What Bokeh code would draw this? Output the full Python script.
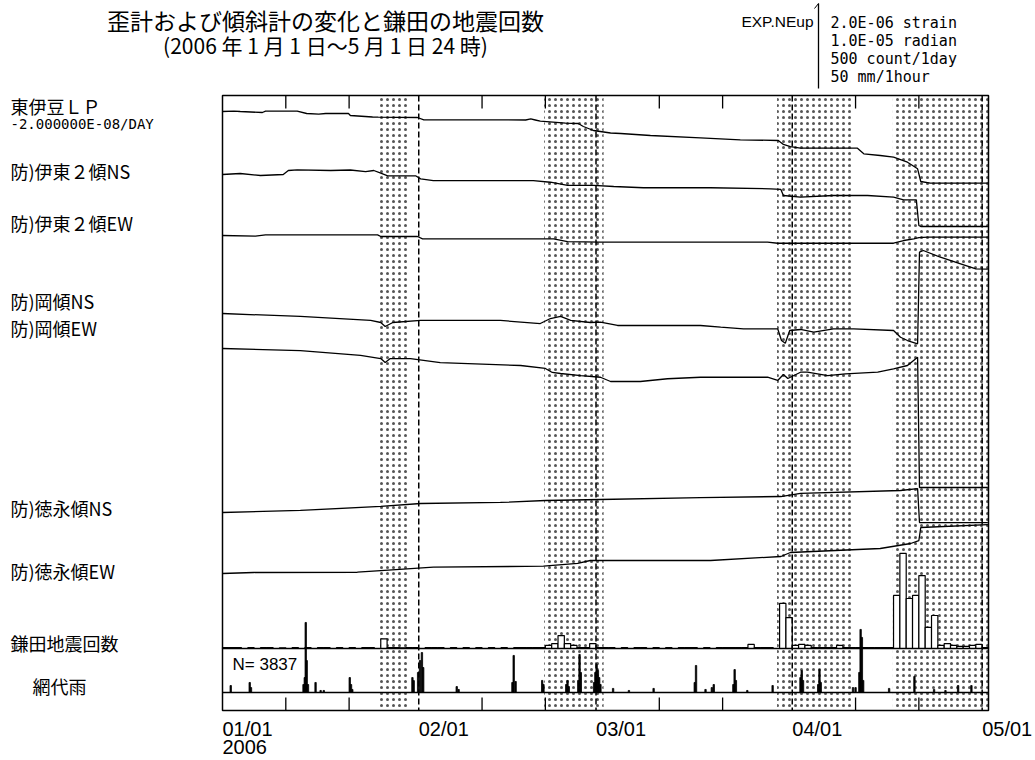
from bokeh.plotting import figure
from bokeh.models import Range1d
from bokeh.embed import file_html
from bokeh.resources import INLINE
from bokeh.core.properties import value

# ------------------------------------------------------------------ data
# time axis: days since 2006-01-01 00:00 (frame ends 2006-05-01 24:00)
N_DAYS = 121
month_days = [0, 31, 59, 90, 120]
month_labels = ["01/01", "02/01", "03/01", "04/01", "05/01"]
year_label = "2006"
minor_days = [10, 20, 41, 51, 69, 79, 100, 110]
shade_start = [24.7, 50.8, 87.6, 105.9]
shade_end = [29.3, 60.2, 99.6, 121.0]

# 東伊豆LP  (strain, unit 1e-7)
lp_day = [0, 1.8, 2.8, 6.3, 6.8, 11.8, 13.3, 15.2, 16.3, 19.9, 20.2, 23.7, 24.6, 30.8, 31.8,
          47.9, 48.7, 49.4, 50.2, 54.2, 56.2, 57.0, 58.6, 61.3, 62.9, 67.6, 75.5, 81.8, 87.8,
          88.6, 89.7, 91.3, 100.3, 101.3, 103.9, 106.0, 108.2, 109.8, 110.3, 111.8, 120.9]
lp_val = [0, 0.1, 0, -0.24, 0.07, 0.07, -0.47, -0.63, -0.47, -0.47, -0.94, -1.29, -1.34, -1.41, -1.95,
          -2.0, -1.76, -2.0, -2.28, -2.75, -2.82, -3.53, -4.47, -5.06, -5.18, -5.65, -6.19, -6.66, -6.82,
          -7.76, -8.24, -8.64, -8.64, -9.95, -10.35, -10.75, -11.93, -13.48, -16.47, -16.87, -16.87]

# 防)伊東2傾NS (tilt, micro-radian)
ito_ns_day = [0, 2.8, 6.0, 9.6, 10.4, 11.8, 17.1, 20.2, 22.6, 23.9, 25.0, 26.1, 30.5, 31.3, 33.3,
              49.1, 51.8, 54.5, 58.6, 61.8, 66.5, 77.1, 86.6, 88.2, 88.6, 91.3, 96.5, 101.9, 106.0,
              107.6, 109.6, 110.0, 110.3, 120.9]
ito_ns_val = [0, 0.12, -0.12, 0, 0.47, 0.55, 0.47, 0.53, 0.35, 0.47, 0.15, -0.15, -0.15, -0.51, -0.71,
              -0.71, -0.91, -1.29, -1.29, -1.41, -1.56, -1.56, -1.68, -1.76, -2.47, -2.67, -2.47, -2.47, -2.67,
              -2.98, -2.98, -6.0, -6.12, -6.12]

# 防)伊東2傾EW
ito_ew_day = [0, 5.2, 6.8, 24.5, 25.0, 30.8, 31.6, 52.3, 54.5, 59.7, 86.1, 87.7, 106.0, 107.6,
              109.2, 110.0, 111.4, 120.9]
ito_ew_val = [0, -0.08, 0.08, 0.08, -0.12, -0.12, -0.39, -0.39, -0.71, -0.79, -0.79, -0.91, -0.91, -0.59,
              -0.39, -0.24, -0.2, -0.2]

# 防)岡傾NS
oka_ns_day = [0, 12.3, 23.4, 25.0, 25.7, 26.9, 31.3, 43.9, 50.2, 51.8, 53.4, 55.0, 58.1, 59.7, 62.4,
              70.3, 75.5, 78.7, 82.3, 87.7, 88.3, 88.9, 89.6, 91.3, 93.4, 96.5, 99.7, 106.0, 107.1,
              108.2, 109.8, 110.1, 110.7, 113.4, 116.6, 119.0, 120.9]
oka_ns_val = [0, -0.35, -0.82, -1.06, -1.53, -1.06, -0.82, -0.82, -1.18, -0.59, -0.35, -0.82, -1.06, -1.02, -1.41,
              -1.41, -1.41, -1.61, -1.8, -1.8, -3.18, -3.49, -2.0, -1.88, -2.2, -1.8, -1.8, -2.0, -2.79,
              -3.18, -3.56, 7.21, 7.41, 6.62, 5.84, 5.25, 5.23]

# 防)岡傾EW
oka_ew_day = [0, 12.3, 21.8, 25.0, 25.7, 26.5, 29.7, 34.4, 47.1, 51.0, 52.1, 53.4, 56.6, 59.7, 61.3,
              66.0, 70.3, 75.5, 86.1, 87.7, 88.6, 89.3, 91.3, 92.4, 95.6, 98.4, 103.5, 106.0, 108.2,
              109.8, 110.1, 120.9]
oka_ew_val = [0, -0.24, -0.82, -1.18, -1.65, -1.18, -1.18, -1.65, -2.0, -2.35, -2.82, -2.94, -3.18, -3.38, -3.88,
              -3.88, -3.56, -3.38, -3.38, -3.76, -3.06, -3.53, -2.79, -2.79, -3.18, -2.98, -2.79, -2.39, -2.0,
              -1.02, -16.35, -16.35]

# 防)徳永傾NS
tok_ns_day = [0, 12.3, 25.0, 31.3, 43.9, 51.0, 59.7, 75.5, 88.2, 91.3, 107.1, 109.8, 110.1, 120.9]
tok_ns_val = [0, 0.24, 0.71, 1.06, 1.18, 1.41, 1.53, 1.76, 1.88, 2.24, 2.59, 2.82, -1.18, -1.18]

# 防)徳永傾EW
tok_ew_day = [0, 4.9, 21.3, 25.0, 33.3, 50.7, 56.1, 58.1, 77.1, 88.2, 89.7, 103.9, 108.7, 110.0,
              110.3, 120.9]
tok_ew_val = [0, 0.12, 0.15, 0.35, 0.74, 0.86, 1.18, 1.53, 1.53, 2.0, 2.47, 2.94, 3.53, 3.88,
              5.41, 5.76]

# 鎌田地震回数 (count / day)
eq_day = [0, 1, 2, 4, 6, 7, 9, 11, 13, 15, 16, 18, 20, 22, 23, 25, 26, 27, 28, 29, 30,
          32, 33, 34, 36, 38, 40, 42, 44, 46, 47, 48, 49, 50, 51, 52, 53, 54, 55, 56, 57, 58,
          59, 60, 61, 63, 65, 66, 68, 70, 72, 73, 74, 76, 78, 79, 80, 81, 82, 83, 84, 85, 86,
          88, 89, 90, 91, 92, 93, 94, 95, 96, 97, 98, 99, 100, 101, 102, 103, 104, 105,
          106, 107, 108, 109, 110, 111, 112, 113, 114, 115, 116, 117, 118, 119, 120]
eq_cnt = [5, 5, 5, 5, 5, 5, 4, 5, 5, 5, 5, 5, 5, 5, 5, 57, 5, 5, 4, 5, 5,
          5, 5, 5, 5, 5, 5, 5, 5, 5, 5, 5, 5, 5, 18, 29, 76, 29, 18, 6, 6, 29,
          5, 5, 5, 5, 5, 5, 5, 5, 5, 5, 5, 5, 5, 5, 5, 5, 5, 24, 5, 5, 5,
          265, 182, 18, 24, 18, 5, 5, 5, 5, 18, 5, 5, 5, 5, 5, 5, 5, 5,
          312, 560, 294, 312, 429, 124, 194, 18, 29, 18, 12, 12, 18, 24, 6]
eq_total = "N= 3837"

# 網代雨 (mm / hour)
rain_day = [1.3, 4.3, 4.5, 12.8, 13.0, 13.15, 13.3, 13.5, 14.7, 15.5, 16.0, 20.1, 20.3, 20.5,
            30.0, 30.2, 30.9, 31.2, 31.5, 31.7, 37.0, 37.3, 45.8, 46.0, 46.3, 50.5, 50.7,
            54.3, 54.5, 54.7, 56.2, 56.4, 56.6, 58.7, 58.9, 59.1, 59.3, 59.5, 59.7, 61.7,
            64.2, 68.1, 74.6, 74.8, 76.3, 77.3, 77.6, 80.7, 80.9, 81.1, 82.9, 86.9, 91.3,
            91.5, 91.7, 94.1, 94.3, 94.5, 99.6, 100.0, 100.6, 100.8, 101.0, 101.2, 105.3,
            109.3, 112.4, 114.2, 116.2, 118.3]
rain_mm = [4.1, 5.9, 2.9, 4.7, 8.8, 41.2, 18.8, 4.7, 5.9, 1.2, 1.2, 8.8, 4.7, 1.8,
           8.8, 7.0, 11.8, 18.8, 23.5, 14.7, 3.5, 1.8, 5.9, 21.8, 6.5, 7.1, 4.7,
           4.7, 7.1, 3.5, 7.1, 22.4, 11.8, 5.9, 11.8, 16.5, 12.9, 8.8, 4.7, 2.4,
           1.2, 2.4, 5.9, 15.9, 1.8, 2.9, 4.7, 4.7, 13.5, 7.1, 1.2, 4.1, 8.8,
           12.9, 7.1, 4.7, 13.5, 5.9, 2.9, 2.9, 11.8, 37.1, 32.4, 7.1, 2.4,
           9.4, 1.8, 1.2, 4.1, 4.1]

title1 = "歪計および傾斜計の変化と鎌田の地震回数"
title2 = "(2006 年 1 月 1 日～5 月 1 日 24 時)"
legend_head = "EXP.NEup"
legend_lines = ["2.0E-06 strain", "1.0E-05 radian", "500 count/1day", "50 mm/1hour"]
row_names = ["東伊豆ＬＰ", "防)伊東２傾NS", "防)伊東２傾EW", "防)岡傾NS", "防)岡傾EW",
             "防)徳永傾NS", "防)徳永傾EW", "鎌田地震回数", "網代雨"]
lp_note = "-2.000000E-08/DAY"

# ------------------------------------------------------------------ layout (canvas pixels)
W, H = 1035, 760
FL, FR, FT, FB = 222, 988, 95, 710
PPD = (FR - FL) / N_DAYS
SCALE_PX = 85.0                      # length of the strain / tilt / count / rain scale
STRAIN_PX = SCALE_PX / 20.0          # px per 1e-7 strain
TILT_PX = SCALE_PX / 10.0            # px per micro-radian
EQ_PX = SCALE_PX / 500.0             # px per count
RAIN_PX = SCALE_PX / 50.0            # px per mm
EQ_BASE, RAIN_BASE = 648, 692
trace_base = {"lp": 111, "ito_ns": 174, "ito_ew": 235, "oka_ns": 313, "oka_ew": 348,
              "tok_ns": 512, "tok_ew": 573}
label_y = [105, 170, 222, 300, 327, 507, 570, 642, 685]
label_x = [10, 10, 10, 10, 10, 10, 10, 10, 32]

JP = value("Noto Sans CJK JP")
SANS = value("Liberation Sans")
MONO = value("DejaVu Sans Mono")


def dx(px):
    return (px - FL) / PPD


# whole canvas is the plot area: x in days, y in canvas pixels (downwards)
p = figure(width=W, height=H, output_backend="svg", toolbar_location=None,
           x_range=Range1d(dx(0), dx(W)), y_range=Range1d(H, 0),
           x_axis_location=None, y_axis_location=None,
           min_border=0, min_border_left=0, min_border_right=0,
           min_border_top=0, min_border_bottom=0)
p.grid.visible = False
p.outline_line_color = None
p.background_fill_color = "white"
p.border_fill_color = "white"

# dotted shading
p.quad(left=shade_start, right=shade_end, top=FT, bottom=FB,
       fill_alpha=0, line_alpha=0, hatch_pattern="dot", hatch_scale=6,
       hatch_weight=0.6, hatch_color="#555555")


def trace(days, vals, key, ppu):
    ys = [trace_base[key] - v * ppu for v in vals]
    p.line(days, ys, line_color="black", line_width=1.3)


trace(lp_day, lp_val, "lp", STRAIN_PX)
trace(ito_ns_day, ito_ns_val, "ito_ns", TILT_PX)
trace(ito_ew_day, ito_ew_val, "ito_ew", TILT_PX)
trace(oka_ns_day, oka_ns_val, "oka_ns", TILT_PX)
trace(oka_ew_day, oka_ew_val, "oka_ew", TILT_PX)
trace(tok_ns_day, tok_ns_val, "tok_ns", TILT_PX)
trace(tok_ew_day, tok_ew_val, "tok_ew", TILT_PX)

# earthquake counts (outlined daily bars)
p.quad(left=eq_day, right=[d + 1 for d in eq_day],
       bottom=EQ_BASE, top=[EQ_BASE - c * EQ_PX for c in eq_cnt],
       fill_color="white", line_color="black", line_width=1.2)

# rain (filled hourly bars)
p.vbar(x=rain_day, width=0.22, bottom=RAIN_BASE,
       top=[RAIN_BASE - r * RAIN_PX for r in rain_mm],
       fill_color="black", line_color="black", line_width=0.8)

# separators and frame
p.segment(x0=[0, 0], x1=[N_DAYS, N_DAYS], y0=[EQ_BASE, RAIN_BASE], y1=[EQ_BASE, RAIN_BASE],
          line_color="black", line_width=1.5)
p.quad(left=0, right=N_DAYS, top=FT, bottom=FB, fill_alpha=0,
       line_color="black", line_width=1.5)

# month lines
p.segment(x0=month_days[1:], x1=month_days[1:], y0=FT, y1=FB,
          line_color="black", line_width=1.5, line_dash="6 3")

# minor ticks top & bottom
p.segment(x0=minor_days, x1=minor_days, y0=FT, y1=FT + 13, line_color="black", line_width=1.3)
p.segment(x0=minor_days, x1=minor_days, y0=FB, y1=FB - 13, line_color="black", line_width=1.3)

# date labels
p.text(x=month_days, y=728, text=month_labels, text_font=SANS, text_font_size="20px",
       text_baseline="middle", text_align="left", text_color="black")
p.text(x=[0], y=746, text=[year_label], text_font=SANS, text_font_size="20px",
       text_baseline="middle", text_align="left", text_color="black")

# row names
p.text(x=[dx(v) for v in label_x], y=label_y, text=row_names, text_font=JP,
       text_font_size="18px", text_baseline="middle", text_align="left", text_color="black")
p.text(x=[dx(10)], y=123.5, text=[lp_note], text_font=MONO, text_font_size="14px",
       text_baseline="middle", text_align="left", text_color="black")
p.text(x=[dx(232)], y=664, text=[eq_total], text_font=SANS, text_font_size="17px",
       text_baseline="middle", text_align="left", text_color="black")

# titles
p.text(x=[dx(325)], y=19, text=[title1], text_font=JP, text_font_size="23px",
       text_baseline="middle", text_align="center")
p.text(x=[dx(325)], y=44, text=[title2], text_font=JP, text_font_size="21px",
       text_baseline="middle", text_align="center")

# legend block
LX = 818
p.text(x=[dx(LX - 5)], y=21, text=[legend_head], text_font=SANS,
       text_font_size="15.5px", text_baseline="middle", text_align="right")
p.segment(x0=[dx(LX)], x1=[dx(LX)], y0=[3], y1=[3 + SCALE_PX], line_color="black", line_width=1.3)
p.segment(x0=[dx(LX - 4)], x1=[dx(LX)], y0=[8], y1=[3], line_color="black", line_width=1.0)
p.text(x=[dx(LX + 12)] * len(legend_lines), y=[22 + 18.3 * i for i in range(len(legend_lines))],
       text=legend_lines, text_font=MONO, text_font_size="15px",
       text_baseline="middle", text_align="left")

open("out.html", "w").write(file_html(p, INLINE))
